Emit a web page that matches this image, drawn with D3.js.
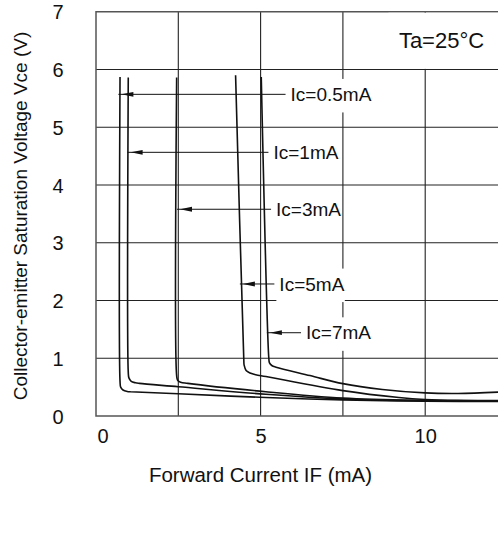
<!DOCTYPE html>
<html>
<head>
<meta charset="utf-8">
<script src="https://cdn.jsdelivr.net/npm/d3@7"></script>
<style>
  html, body { margin: 0; padding: 0; background: #fff; }
  svg { display: block; font-family: "Liberation Sans", Arial, sans-serif; }
</style>
</head>
<body>
<svg id="chart" width="498" height="546"></svg>
<script>
// Forward current IF (mA) and saturation voltage Vce (V) for each collector current
const if05 = [0.73, 0.73, 0.75, 0.82, 0.95, 1.05, 2.5, 5.16, 7.5, 10, 12.5];
const vce05 = [5.87, 0.60, 0.50, 0.45, 0.425, 0.42, 0.385, 0.32, 0.28, 0.255, 0.25];

const if1 = [0.98, 0.98, 1.0, 1.07, 1.2, 1.32, 2.5, 5.16, 7.5, 10, 12.5];
const vce1 = [5.86, 0.76, 0.66, 0.60, 0.575, 0.565, 0.507, 0.376, 0.295, 0.265, 0.26];

const if3 = [2.45, 2.45, 2.48, 2.57, 2.79, 5.16, 7.5, 10, 12.5];
const vce3 = [5.86, 0.70, 0.62, 0.585, 0.565, 0.42, 0.31, 0.27, 0.26];

const if5 = [4.24, 4.49, 4.50, 4.56, 4.68, 4.85, 5.16, 7.5, 9.2, 10, 11, 12.5];
const vce5 = [5.90, 0.97, 0.88, 0.79, 0.745, 0.715, 0.684, 0.44, 0.32, 0.285, 0.27, 0.27];

const if7 = [5.02, 5.25, 5.27, 5.35, 5.47, 6.5, 7.5, 8.7, 10, 11, 12.5];
const vce7 = [5.87, 1.0, 0.92, 0.87, 0.845, 0.70, 0.56, 0.46, 0.40, 0.39, 0.42];

// Callout labels: text, leader height (V), arrow tip (mA), text start (mA)
const labelText = ["Ic=0.5mA", "Ic=1mA", "Ic=3mA", "Ic=5mA", "Ic=7mA"];
const labelV = [5.57, 4.566, 3.58, 2.286, 1.442];
const labelTip = [0.68, 0.96, 2.46, 4.37, 5.19];
const labelX = [5.91, 5.39, 5.47, 5.57, 6.38];

const xTicks = [0, 5, 10];
const yTicks = [0, 1, 2, 3, 4, 5, 6, 7];
const xGrid = [2.5, 5, 7.5, 10, 12.5];
const yGrid = [1, 2, 3, 4, 5, 6];

const series = [[if05, vce05], [if1, vce1], [if3, vce3], [if5, vce5], [if7, vce7]]
  .map(([xs, ys]) => xs.map((v, i) => [v, ys[i]]));

const svg = d3.select("#chart");
const plotLeft = 96, plotBottom = 416, plotTop = 11.75;
const x = d3.scaleLinear().domain([0, 12.5]).range([plotLeft, plotLeft + 12.5 * 32.92]);
const y = d3.scaleLinear().domain([0, 7]).range([plotBottom, plotTop]);

const font = "'Liberation Sans', Arial, sans-serif";

// grid
const grid = svg.append("g").attr("stroke", "#222").attr("stroke-width", 1.1);
grid.selectAll(".gx").data(xGrid).join("line")
  .attr("x1", d => x(d)).attr("x2", d => x(d))
  .attr("y1", y(7)).attr("y2", y(0));
grid.selectAll(".gy").data(yGrid).join("line")
  .attr("x1", x(0)).attr("x2", x(12.5))
  .attr("y1", d => y(d)).attr("y2", d => y(d));

// plot frame
svg.append("rect")
  .attr("x", x(0)).attr("y", y(7))
  .attr("width", x(12.5) - x(0)).attr("height", y(0) - y(7))
  .attr("fill", "none").attr("stroke", "#555").attr("stroke-width", 1.5);

// temperature note sits on a white panel in the top cell
svg.append("rect")
  .attr("x", x(11.8) - 96).attr("y", y(7) + 1)
  .attr("width", 140).attr("height", y(6) - y(7) - 1.6)
  .attr("fill", "#fff");
svg.append("text")
  .attr("x", x(11.79)).attr("y", y(6.37))
  .attr("text-anchor", "end")
  .attr("font-size", 22).attr("fill", "#111")
  .text("Ta=25°C");

// curves
const line = d3.line()
  .x(d => x(d[0])).y(d => y(d[1]))
  .curve(d3.curveCatmullRom.alpha(0.5));
svg.append("g").selectAll("path").data(series).join("path")
  .attr("d", line)
  .attr("fill", "none").attr("stroke", "#111").attr("stroke-width", 1.6);

// callouts
const ann = svg.append("g");
labelText.forEach((t, i) => {
  const ly = y(labelV[i]);
  const tx = x(labelX[i]);
  const tip = x(labelTip[i]);
  const txt = ann.append("text")
    .attr("x", tx).attr("y", ly + 6.6)
    .attr("font-size", 19).attr("fill", "#111")
    .text(t);
  const w = txt.node().getComputedTextLength();
  ann.insert("rect", "text")
    .attr("x", tx - 3).attr("y", ly + 6.6 - 22)
    .attr("width", w + 3.5).attr("height", 33.5)
    .attr("fill", "#fff");
  ann.append("line")
    .attr("x1", tip).attr("x2", tx - 5)
    .attr("y1", ly).attr("y2", ly)
    .attr("stroke", "#111").attr("stroke-width", 1);
  ann.append("path")
    .attr("d", `M${tip + 3},${ly} L${tip + 15},${ly - 2.4} L${tip + 15},${ly + 2.4} Z`)
    .attr("fill", "#111");
});

// axes (labels only)
const xAxis = svg.append("g")
  .attr("transform", `translate(0,${plotBottom})`)
  .call(d3.axisBottom(x).tickValues(xTicks).tickSize(0).tickPadding(0).tickFormat(d3.format("d")));
xAxis.select(".domain").remove();
xAxis.selectAll("text")
  .attr("font-family", font).attr("font-size", 20).attr("fill", "#111")
  .attr("dy", null).attr("y", 27)
  .attr("dx", d => d === 0 ? 6.5 : 0);

const yAxis = svg.append("g")
  .attr("transform", `translate(${plotLeft - 32.5},0)`)
  .call(d3.axisLeft(y).tickValues(yTicks).tickSize(0).tickPadding(0).tickFormat(d3.format("d")));
yAxis.select(".domain").remove();
yAxis.selectAll("text")
  .attr("font-family", font).attr("font-size", 20).attr("fill", "#111")
  .attr("dy", "0.36em");

// axis titles
svg.append("text")
  .attr("x", 260.5).attr("y", 482)
  .attr("text-anchor", "middle").attr("font-size", 20.5).attr("fill", "#111")
  .text("Forward Current IF (mA)");
svg.append("text")
  .attr("transform", "translate(27,216) rotate(-90)")
  .attr("text-anchor", "middle").attr("font-size", 19).attr("fill", "#111")
  .text("Collector-emitter Saturation Voltage Vce (V)");
</script>
</body>
</html>
